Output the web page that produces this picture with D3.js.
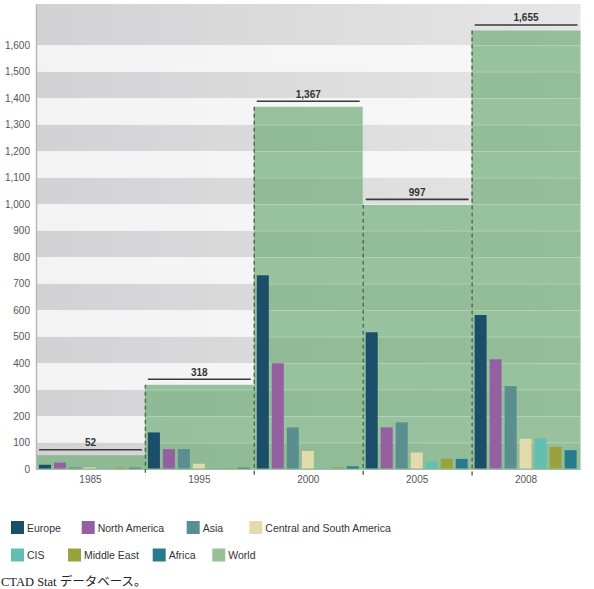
<!DOCTYPE html>
<html><head><meta charset="utf-8">
<script src="https://cdn.jsdelivr.net/npm/d3@7"></script>
<style>
body{margin:0;background:#fff;}
svg{display:block;}
text{font-family:"Liberation Sans",Arial,sans-serif;}
</style></head>
<body>
<svg id="chart" width="594" height="589"></svg>
<script>
const years = ["1985","1995","2000","2005","2008"];
const regions = ["Europe","North America","Asia","Central and South America","CIS","Middle East","Africa"];
const europe = [16,138,731,516,581];
const northAmerica = [24,75,399,157,414];
const asia = [6,75,157,176,313];
const centralSouthAmerica = [6,20,68,62,114];
const cis = [0,4,4,28,116];
const middleEast = [5,4,6,39,83];
const africa = [5,5,10,38,71];
const world = [52,318,1367,997,1655];
const yTicks = [0,100,200,300,400,500,600,700,800,900,1000,1100,1200,1300,1400,1500,1600];
const legendLabels = ["Europe","North America","Asia","Central and South America","CIS","Middle East","Africa","World"];
const sourceText = "CTAD Stat データベース。";

const seriesValues = [europe,northAmerica,asia,centralSouthAmerica,cis,middleEast,africa];
const colors = ["#1b4e68","#9460a2","#5b8f8f","#e2dbac","#63c0b1","#99a33c","#287b8c"];
const worldColor = "#96c19a";

const svg = d3.select("#chart");
const defs = svg.append("defs");
const gg = defs.append("linearGradient").attr("id","grayBand").attr("x1","0").attr("x2","1").attr("y1","0").attr("y2","0");
gg.append("stop").attr("offset","0").attr("stop-color","#d2d2d4");
gg.append("stop").attr("offset","1").attr("stop-color","#e6e6e6");
const wg = defs.append("linearGradient").attr("id","whiteBand").attr("x1","0").attr("x2","1").attr("y1","0").attr("y2","0");
wg.append("stop").attr("offset","0").attr("stop-color","#f3f3f3");
wg.append("stop").attr("offset","1").attr("stop-color","#f8f8f8");

const left = 36, right = 580.5;
const x0 = d3.scaleBand().domain(years).range([left,right]).padding(0);
const x1 = d3.scaleBand().domain(regions).range([3, x0.bandwidth()-3.9]).paddingInner(0.2).paddingOuter(0);
const y = d3.scaleLinear().domain([0,1755]).range([469,4]);

// background bands
const bandEdges = yTicks.concat([1755]);
const bands = [];
for(let i=0;i<bandEdges.length-1;i++) bands.push({lo:bandEdges[i],hi:bandEdges[i+1],gray:i%2===0});
svg.append("g").selectAll("rect").data(bands).join("rect")
  .attr("x",left).attr("width",right-left)
  .attr("y",d=>y(d.hi)).attr("height",d=>y(d.lo)-y(d.hi))
  .attr("fill",d=>d.gray?"url(#grayBand)":"url(#whiteBand)");

// world boxes
const worldData = years.map((yr,i)=>({year:yr,v:world[i],i}));
svg.append("g").selectAll("rect").data(worldData).join("rect")
  .attr("x",d=>x0(d.year)).attr("width",x0.bandwidth())
  .attr("y",d=>y(d.v)).attr("height",d=>y(0)+1-y(d.v))
  .attr("fill","rgb(120,175,127)").attr("fill-opacity",0.75);

// grid lines inside world boxes
const gridG = svg.append("g");
worldData.forEach(d=>{
  gridG.selectAll(null).data(yTicks.filter(t=>t>0 && t<d.v)).join("line")
    .attr("x1",x0(d.year)).attr("x2",x0(d.year)+x0.bandwidth())
    .attr("y1",t=>y(t)+0.5).attr("y2",t=>y(t)+0.5)
    .attr("stroke","#c4dcc6").attr("stroke-opacity",0.6).attr("stroke-width",1);
});

// bars
const barData = [];
years.forEach((yr,i)=>regions.forEach((r,j)=>barData.push({year:yr,region:r,v:seriesValues[j][i],c:colors[j]})));
svg.append("g").selectAll("rect").data(barData).join("rect")
  .attr("x",d=>x0(d.year)+x1(d.region)).attr("width",x1.bandwidth())
  .attr("y",d=>y(d.v)).attr("height",d=>Math.max(0,y(0)-0.5-y(d.v)))
  .attr("fill",d=>d.c);

// dashed separators
svg.append("g").selectAll("line").data(worldData.slice(1)).join("line")
  .attr("x1",d=>x0(d.year)+0.5).attr("x2",d=>x0(d.year)+0.5)
  .attr("y1",d=>y(d.v)).attr("y2",476)
  .attr("stroke","#4b6a50").attr("stroke-width",1.4).attr("stroke-dasharray","4,3");

// total lines and labels
const tg = svg.append("g");
tg.selectAll("line").data(worldData).join("line")
  .attr("x1",d=>x0(d.year)+3).attr("x2",d=>x0(d.year)+x0.bandwidth()-3)
  .attr("y1",d=>y(d.v)-5.5).attr("y2",d=>y(d.v)-5.5)
  .attr("stroke","#3a3a3a").attr("stroke-width",1.6);
tg.selectAll("text").data(worldData).join("text")
  .attr("x",d=>x0(d.year)+x0.bandwidth()/2).attr("y",d=>y(d.v)-9)
  .attr("text-anchor","middle").attr("font-size","10px").attr("font-weight","bold").attr("fill","#333")
  .text(d=>d3.format(",")(d.v));

// y axis
const yAxis = svg.append("g").attr("transform",`translate(${left},0)`)
  .call(d3.axisLeft(y).tickValues(yTicks).tickFormat(d3.format(",")).tickSize(0).tickPadding(6));
yAxis.select(".domain").attr("stroke","#b8b8b8").attr("stroke-width",1.5);
yAxis.selectAll("text").attr("font-size","10px").attr("fill","#555").attr("font-family","Liberation Sans, Arial, sans-serif");

// x axis
const xAxis = svg.append("g").attr("transform",`translate(0,${y(0)})`)
  .call(d3.axisBottom(x0).tickSize(0).tickPadding(7));
xAxis.select(".domain").remove();
xAxis.selectAll("text").attr("font-size","10px").attr("fill","#555").attr("font-family","Liberation Sans, Arial, sans-serif");

// legend
const legendPos = [
  {sx:11,row:0},{sx:81.7,row:0},{sx:186.7,row:0},{sx:249.3,row:0},
  {sx:11,row:1},{sx:68,row:1},{sx:152.7,row:1},{sx:212.3,row:1}
];
const legendColors = colors.concat([worldColor]);
const lg = svg.append("g");
legendLabels.forEach((lab,i)=>{
  const p = legendPos[i];
  const top = p.row===0?521:548.5;
  lg.append("rect").attr("x",p.sx).attr("y",top).attr("width",13).attr("height",13).attr("fill",legendColors[i]);
  lg.append("text").attr("x",p.sx+16).attr("y",top+10.5).attr("font-size","10.5px").attr("fill","#333").text(lab);
});

// source
svg.append("text").attr("x",1).attr("y",586).attr("text-anchor","start")
  .attr("font-size","12.5px").attr("fill","#222")
  .style("font-family","'Liberation Serif','Noto Sans CJK JP',serif")
  .text(sourceText);
</script>
</body></html>
